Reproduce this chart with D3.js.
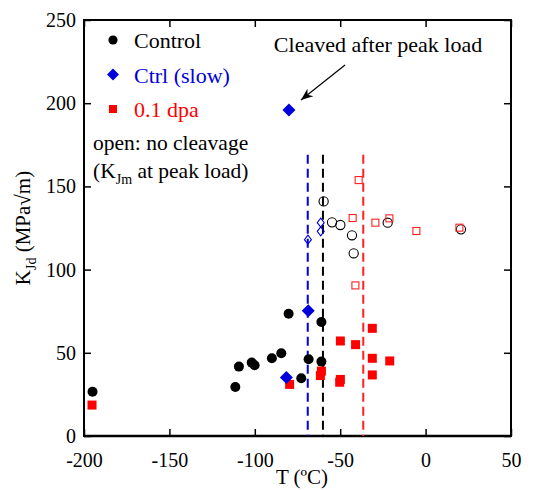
<!DOCTYPE html>
<html><head><meta charset="utf-8">
<script src="https://cdn.jsdelivr.net/npm/d3@7"></script>
<style>body{margin:0;background:#fff}svg{display:block}svg text{font-family:"Liberation Serif","Tinos","DejaVu Serif","Times New Roman",serif !important}</style>
</head><body><svg id="c" width="533" height="490"></svg>
<script>
// Data
const controlFilled = [[-195,26.6],[-111.4,29.4],[-109.3,41.7],[-101.8,44.1],[-100.1,42.5],[-90,46.7],[-84.5,49.7],[-80.2,73.5],[-72.8,34.7],[-68.5,46.1],[-61,68.5],[-61,44.7]];
const controlOpen = [[-59.7,141],[-54.8,128.4],[-49.9,126.8],[-43.1,120.6],[-42.1,109.8],[-22.2,128.2],[20.7,124.2]];
const slowFilled = [[-80,195.9],[-68.7,75.3],[-81.5,35.1]];
const slowOpen = [[-68.9,118],[-61.4,128.2],[-61.4,123]];
const dpaFilled = [[-195.3,18.6],[-79.6,31],[-61.6,36.3],[-61,39],[-49.9,57.1],[-50.3,32.3],[-49.9,34],[-41,54.9],[-31.2,64.7],[-31.2,46.7],[-31.2,36.7],[-21,45.1]];
const dpaOpen = [[-39.2,153.8],[-42.7,131],[-41.1,90.5],[-29.4,128.2],[-21.2,130.8],[-5.4,123.2],[19.8,125.2]];
const refLines = [{t:-69,c:"#0000dd"},{t:-60.1,c:"#000"},{t:-36.5,c:"#ff2020"}];
const xTicks = [-200,-150,-100,-50,0,50];
const yTicks = [0,50,100,150,200,250];
const legend = [{label:"Control",shape:"circle",color:"#000"},{label:"Ctrl (slow)",shape:"diamond",color:"#0000dd"},{label:"0.1 dpa",shape:"square",color:"#ff0000"}];

const FONT = '"Liberation Serif","Tinos","DejaVu Serif","Times New Roman",serif';
const svg = d3.select("#c").attr("font-family",FONT);
const L=84, R=511, T=20, B=436;
const x = d3.scaleLinear().domain([-200,50]).range([L,R]);
const y = d3.scaleLinear().domain([0,250]).range([B,T]);

// frame
svg.append("rect").attr("x",L).attr("y",T).attr("width",R-L).attr("height",B-T)
  .attr("fill","none").attr("stroke","#000").attr("stroke-width",2);

// axes with inward ticks
const fs = "20px";
const gx = svg.append("g").attr("transform",`translate(0,${B})`)
  .call(d3.axisBottom(x).tickValues(xTicks).tickSize(-7).tickPadding(17).tickFormat(d3.format("d")));
const gy = svg.append("g").attr("transform",`translate(${L},0)`)
  .call(d3.axisLeft(y).tickValues(yTicks).tickSize(-7).tickPadding(8).tickFormat(d3.format("d")));
const gt = svg.append("g").attr("transform",`translate(0,${T})`)
  .call(d3.axisTop(x).tickValues(xTicks).tickSize(-7).tickFormat(""));
const gr = svg.append("g").attr("transform",`translate(${R},0)`)
  .call(d3.axisRight(y).tickValues(yTicks).tickSize(-7).tickFormat(""));
[gx,gy,gt,gr].forEach(g=>{
  g.attr("font-family",FONT);
  g.select(".domain").remove();
  g.selectAll(".tick line").attr("stroke","#000").attr("stroke-width",1.5);
  g.selectAll("text").attr("font-family",FONT).attr("font-size",fs).attr("fill","#000");
});
gx.selectAll("text").text(d=>d<0?"-"+Math.abs(d):d);
svg.append("line").attr("x1",L).attr("x2",R).attr("y1",B).attr("y2",B).attr("stroke","#000").attr("stroke-width",2.5);

// axis titles
svg.append("text").attr("x",302).attr("y",484).attr("text-anchor","middle").attr("font-size","21px").text("T (ºC)");
const yl = svg.append("text").attr("transform","translate(30,228) rotate(-90)").attr("text-anchor","middle").attr("font-size","21px");
yl.append("tspan").text("K");
yl.append("tspan").attr("font-size","14px").attr("dy",6).text("Jd");
yl.append("tspan").attr("dy",-6).text(" (MPa√m)");

// reference dashed lines
svg.selectAll(".ref").data(refLines).enter().append("line")
  .attr("x1",d=>x(d.t)).attr("x2",d=>x(d.t)).attr("y1",y(169)).attr("y2",B)
  .attr("stroke",d=>d.c).attr("stroke-width",2).attr("stroke-dasharray","9,5");

// markers
const diamond = (s)=>`M0,${-s}L${s},0L0,${s}L${-s},0Z`;
function circles(data,r,fill,stroke){
  svg.append("g").selectAll("circle").data(data).enter().append("circle")
    .attr("cx",d=>x(d[0])).attr("cy",d=>y(d[1])).attr("r",r)
    .attr("fill",fill).attr("stroke",stroke).attr("stroke-width",1.1);
}
function squares(data,s,fill,stroke){
  svg.append("g").selectAll("rect").data(data).enter().append("rect")
    .attr("x",d=>x(d[0])-s/2).attr("y",d=>y(d[1])-s/2).attr("width",s).attr("height",s)
    .attr("fill",fill).attr("stroke",stroke).attr("stroke-width",1.1);
}
function diamonds(data,sx,sy,fill,stroke){
  svg.append("g").selectAll("path").data(data).enter().append("path")
    .attr("d",`M0,${-sy}L${sx},0L0,${sy}L${-sx},0Z`)
    .attr("transform",d=>`translate(${x(d[0])},${y(d[1])})`)
    .attr("fill",fill).attr("stroke",stroke).attr("stroke-width",1.1);
}
circles(controlOpen,4.6,"none","#000");
squares(dpaOpen,7,"none","#ff2020");
diamonds(slowOpen,3.5,4.5,"none","#0000dd");
circles(controlFilled,5,"#000","none");
squares(dpaFilled,9,"#ff0000","none");
diamonds(slowFilled,6.5,6.5,"#0000dd","none");

// legend
legend.forEach((d,i)=>{
  const cy = 40 + i*34.5, mx = 113;
  if(d.shape==="circle") svg.append("circle").attr("cx",mx).attr("cy",cy).attr("r",4.6).attr("fill",d.color);
  if(d.shape==="diamond") svg.append("path").attr("d",diamond(6)).attr("transform",`translate(${mx},${cy})`).attr("fill",d.color);
  if(d.shape==="square") svg.append("rect").attr("x",mx-4).attr("y",cy-4).attr("width",8).attr("height",8).attr("fill",d.color);
  svg.append("text").attr("x",134).attr("y",cy+8).attr("font-size","22px").attr("fill",d.color).text(d.label);
});
svg.append("text").attr("x",93).attr("y",150).attr("font-size","21.5px").text("open: no cleavage");
const t2 = svg.append("text").attr("x",93).attr("y",178).attr("font-size","21.5px");
t2.append("tspan").text("(K");
t2.append("tspan").attr("font-size","14px").attr("dy",6).text("Jm");
t2.append("tspan").attr("dy",-6).text(" at peak load)");

// annotation
svg.append("text").attr("x",378).attr("y",52).attr("text-anchor","middle").attr("font-size","22px").text("Cleaved after peak load");
svg.append("defs").append("marker").attr("id","ah").attr("viewBox","0 0 10 10").attr("refX",10).attr("refY",5)
  .attr("markerWidth",12).attr("markerHeight",12).attr("markerUnits","userSpaceOnUse").attr("orient","auto")
  .append("path").attr("d","M0,1L10,5L0,9L3,5Z").attr("fill","#000");
svg.append("line").attr("x1",345).attr("y1",65).attr("x2",301).attr("y2",100)
  .attr("stroke","#000").attr("stroke-width",1.2).attr("marker-end","url(#ah)");
</script></body></html>
